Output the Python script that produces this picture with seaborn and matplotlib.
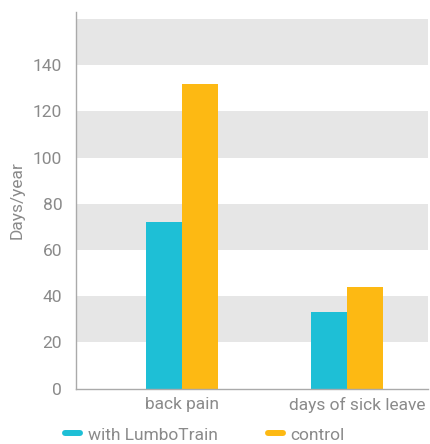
import matplotlib
matplotlib.use("Agg")
import matplotlib.pyplot as plt
from matplotlib.lines import Line2D
from matplotlib.transforms import ScaledTranslation
import seaborn as sns
import pandas as pd

# Outcomes compared between the two groups
categories = ["back pain", "days of sick leave"]
groups = ["with LumboTrain", "control"]
lumbotrain_days = [72, 33]
control_days = [132, 44]
y_ticks = [0, 20, 40, 60, 80, 100, 120, 140]

colors = {"with LumboTrain": "#1EBFD6", "control": "#FDB913"}
text_gray = "#8a8a8a"
band_gray = "#E6E6E6"

df = pd.DataFrame({
    "category": categories * 2,
    "group": [groups[0]] * len(categories) + [groups[1]] * len(categories),
    "days": lumbotrain_days + control_days,
})

sns.set_style("white")
plt.rcParams["font.family"] = ["Roboto", "DejaVu Sans"]

fig = plt.figure(figsize=(4.30, 4.44), dpi=100)
ax = fig.add_axes([0.177, 0.1246, 0.818, 0.8484])

# Alternating horizontal bands behind the bars
for lo in (20, 60, 100, 140):
    ax.axhspan(lo, lo + 20, color=band_gray, zorder=0, lw=0)

sns.barplot(data=df, x="category", y="days", hue="group", order=categories,
            hue_order=groups, palette=colors, width=0.436, saturation=1,
            linewidth=0, ax=ax, legend=False, zorder=2)

ax.set_xlim(-0.64, 1.49)
ax.set_ylim(0, 163)
ax.set_yticks(y_ticks)
ax.set_yticklabels([str(t) for t in y_ticks])
ax.set_xlabel("")
ax.set_ylabel("Days/year", color=text_gray, fontsize=12.5, labelpad=6)

for side in ("top", "right"):
    ax.spines[side].set_visible(False)
for side in ("left", "bottom"):
    ax.spines[side].set_color("#aaaaaa")
    ax.spines[side].set_linewidth(1)

ax.tick_params(axis="y", labelcolor=text_gray, labelsize=12.5, length=6,
               width=1, color="#aaaaaa", direction="out", pad=4)
ax.tick_params(axis="x", labelcolor=text_gray, labelsize=12.5, length=0, pad=6)

# Keep the long right-hand category label inside the figure
last_label = ax.get_xticklabels()[-1]
last_label.set_transform(last_label.get_transform()
                         + ScaledTranslation(0.10, 0, fig.dpi_scale_trans))

handles = [Line2D([0], [0], color=colors[g], lw=4.3, solid_capstyle="round")
           for g in groups]
fig.legend(handles, groups, loc="center left",
           bbox_to_anchor=(65 / 430, 1 - 435 / 444),
           ncol=2, frameon=False, fontsize=12.5, handlelength=0.85,
           handletextpad=0.45, columnspacing=2.9, borderpad=0,
           borderaxespad=0, labelcolor=text_gray)

fig.savefig("out.png", dpi=100)
